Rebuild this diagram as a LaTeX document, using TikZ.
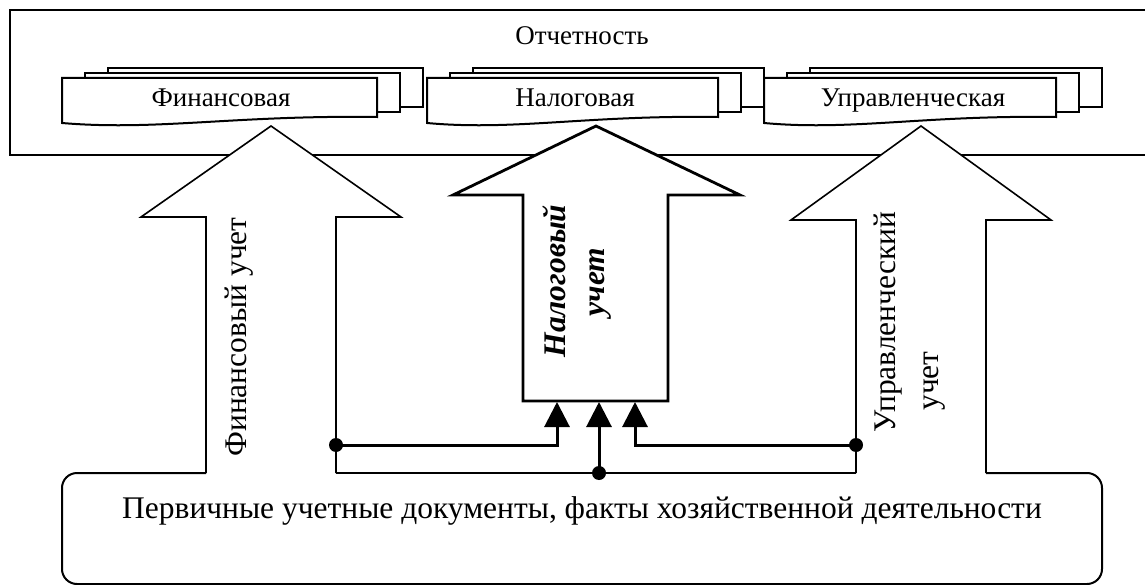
\documentclass[tikz,border=0pt]{standalone}
\usepackage{fontspec}
\setmainfont{Liberation Serif}
\usetikzlibrary{arrows.meta}
\begin{document}
\begin{tikzpicture}[x=1pt,y=-1pt,
  frame/.style={line width=2pt, line join=miter},
  docline/.style={line width=2pt, fill=white, line join=miter},
  bigarrow/.style={line width=1.6pt, fill=white, line join=miter},
  taxarrow/.style={line width=2.8pt, fill=white, line join=miter},
  wire/.style={line width=3pt},
  thinwire/.style={line width=2pt},
  tip/.style={-{Triangle[length=25pt,width=25pt]}},
  dot/.style={circle, fill=black, inner sep=0pt, minimum size=14pt},
  smalltxt/.style={font=\fontsize{27}{32}\selectfont, inner sep=0pt},
  bigtxt/.style={font=\fontsize{31.5}{40}\selectfont, inner sep=0pt},
  taxtxt/.style={font=\fontsize{31.5}{40}\selectfont\bfseries\itshape, inner sep=0pt},
]
\useasboundingbox (0,0) rectangle (1145,585);

% reporting frame (runs off the right edge)
\draw[frame] (1150,10) -- (10,10) -- (10,155) -- (1150,155);
\node[smalltxt, anchor=base] (rep) at (582,45) {Отчетность};

% stacked document symbol: left x, width
\newcommand\multidoc[2]{%
  \draw[docline] (#1+46,68) rectangle (#1+46+#2,107);
  \draw[docline] (#1+23,73) rectangle (#1+23+#2,112);
  \draw[docline] (#1,78) -- (#1+#2,78) -- (#1+#2,117)
     .. controls (#1+0.55*#2,115) and (#1+0.3*#2,131) .. (#1,123) -- cycle;
}
\multidoc{62}{315}
\multidoc{427}{291}
\multidoc{764}{292}
\node[smalltxt, anchor=base] (fin) at (221,107) {Финансовая};
\node[smalltxt, anchor=base] (nal) at (575,107) {Налоговая};
\node[smalltxt, anchor=base] (upr) at (913,107) {Управленческая};

% big block arrows
\draw[bigarrow] (206,473) -- (206,217) -- (141,217) -- (271,126) -- (401,217) -- (336,217) -- (336,473);
\draw[bigarrow] (856,473) -- (856,220) -- (791,220) -- (921,126) -- (1051,220) -- (986,220) -- (986,473);
\draw[taxarrow] (523,401) -- (523,195) -- (453,195) -- (596,126) -- (740,195) -- (668,195) -- (668,401) -- cycle;

% arrow labels
\node[bigtxt, rotate=90, anchor=base] (finlbl) at (246,337) {Финансовый учет};
\node[bigtxt, rotate=90, anchor=base] (uprlbl1) at (895,322) {Управленческий};
\node[bigtxt, rotate=90, anchor=base] (uprlbl2) at (938,381) {учет};
\node[taxtxt, rotate=90, anchor=base] (nallbl1) at (565,281) {Налоговый};
\node[taxtxt, rotate=90, anchor=base] (nallbl2) at (604,282) {учет};

% source documents box (open where the arrows enter)
\draw[frame, rounded corners=15pt] (206,473) -- (62,473) -- (62,584) -- (1102,584) -- (1102,473) -- (986,473);
\node[bigtxt, anchor=base] (src) at (582,518) {Первичные учетные документы, факты хозяйственной деятельности};

% distribution wiring into the tax arrow
\coordinate (finfoot) at (336,473);
\coordinate (uprfoot) at (856,473);
\node[dot] (dl) at (336,445) {};
\node[dot] (dr) at (856,445) {};
\node[dot] (dc) at (599,473) {};
\coordinate (t1) at (557,402);
\coordinate (t2) at (599,402);
\coordinate (t3) at (635,402);
\draw[thinwire] (finfoot) -- (uprfoot);
\draw[wire, tip] (dl.center) -| (t1);
\draw[wire, tip] (dc.center) -- (t2);
\draw[wire, tip] (dr.center) -| (t3);
\end{tikzpicture}
\end{document}
